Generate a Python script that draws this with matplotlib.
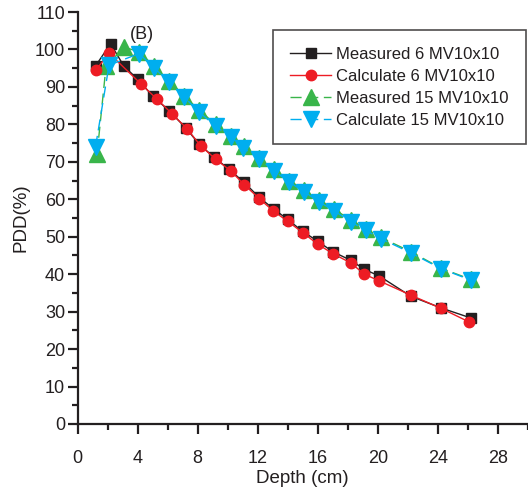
import matplotlib
matplotlib.use("Agg")
import matplotlib.pyplot as plt
from matplotlib.ticker import MultipleLocator

plt.rcParams['font.family'] = ['Liberation Sans', 'DejaVu Sans']

# ---- data ----
depth_m6 = [1.2, 2.2, 3.1, 4.0, 5.0, 6.1, 7.2, 8.1, 9.1, 10.1, 11.1, 12.1, 13.1, 14.0, 15.0,
            16.0, 17.0, 18.2, 19.1, 20.1, 22.2, 24.2, 26.2]
pdd_m6 = [95.6, 101.5, 95.5, 92.1, 87.6, 83.6, 79.1, 74.7, 71.2, 68.0, 64.5, 60.5, 57.3,
          54.6, 51.4, 48.8, 46.0, 43.7, 41.3, 39.5, 34.1, 31.0, 28.3]

depth_c6 = [1.2, 2.1, 4.2, 5.3, 6.3, 7.3, 8.2, 9.2, 10.2, 11.1, 12.1, 13.0, 14.0, 15.0,
            16.0, 17.0, 18.2, 19.1, 20.1, 22.2, 24.2, 26.1]
pdd_c6 = [94.4, 99.0, 90.9, 86.7, 82.8, 78.8, 74.3, 70.7, 67.6, 63.9, 60.2, 57.0,
          54.1, 51.1, 48.0, 45.5, 43.0, 40.0, 38.2, 34.4, 30.9, 27.2]

depth_m15 = [1.3, 1.9, 3.1, 4.1, 5.1, 6.1, 7.1, 8.1, 9.2, 10.2, 11.1, 12.1, 13.1, 14.1, 15.1,
             16.1, 17.1, 18.2, 19.2, 20.2, 22.2, 24.2, 26.2]
pdd_m15 = [72.0, 95.5, 100.6, 99.4, 95.5, 91.6, 87.6, 83.8, 80.0, 77.0, 74.2, 71.0, 68.0,
           65.0, 62.4, 59.7, 57.3, 54.5, 52.0, 49.8, 46.0, 41.6, 38.6]

depth_c15 = [1.2, 2.1, 4.1, 5.1, 6.1, 7.1, 8.1, 9.2, 10.2, 11.0, 12.1, 13.1, 14.1, 15.1,
             16.1, 17.1, 18.2, 19.2, 20.2, 22.2, 24.2, 26.2]
pdd_c15 = [74.0, 95.8, 98.9, 95.1, 91.3, 87.3, 83.3, 79.5, 76.6, 73.8, 70.8, 67.6,
           64.6, 62.0, 59.3, 56.9, 54.0, 51.7, 49.5, 45.7, 41.5, 38.4]

labels = ["Measured 6 MV10x10", "Calculate 6 MV10x10",
          "Measured 15 MV10x10", "Calculate 15 MV10x10"]

x_ticks = [0, 4, 8, 12, 16, 20, 24, 28]
y_ticks = [0, 10, 20, 30, 40, 50, 60, 70, 80, 90, 100, 110]

# ---- figure ----
W, H = 528, 493
fig = plt.figure(figsize=(W / 100, H / 100), dpi=100)
ax = fig.add_axes([77.5 / W, 69 / H, (W - 77.5) / W, (424 - 12) / H])

axis_col = '#231f20'
ax.plot(depth_m6, pdd_m6, color='#231f20', lw=1.0, marker='s', ms=7.5,
        mfc='#231f20', mec='#231f20', label=labels[0], zorder=3)
ax.plot(depth_c6, pdd_c6, color='#ed1c24', lw=1.0, marker='o', ms=7.5,
        mfc='#ed1c24', mec='#ed1c24', label=labels[1], zorder=4)
ax.plot(depth_m15, pdd_m15, color='#39b54a', lw=1.0, ls=(0, (8, 4)), marker='^', ms=11,
        mfc='#39b54a', mec='#39b54a', label=labels[2], zorder=3)
ax.plot(depth_c15, pdd_c15, color='#00aeef', lw=1.0, ls=(0, (8, 4)), marker='v', ms=11,
        mfc='#00aeef', mec='#00aeef', label=labels[3], zorder=4)

ax.set_xlim(0, 30)
ax.set_ylim(0, 110)
ax.set_xticks(x_ticks)
ax.set_yticks(y_ticks)
ax.xaxis.set_minor_locator(MultipleLocator(2))
ax.yaxis.set_minor_locator(MultipleLocator(5))

for s in ['top', 'right']:
    ax.spines[s].set_visible(False)
for s in ['left', 'bottom']:
    ax.spines[s].set_linewidth(1.6)
    ax.spines[s].set_color(axis_col)

ax.tick_params(which='major', direction='out', length=7, width=1.6, color=axis_col,
               labelsize=13, labelcolor=axis_col, pad=2)
ax.tick_params(which='minor', direction='out', length=4, width=1.6, color=axis_col)
ax.tick_params(axis='x', which='major', pad=12)

ax.set_xlabel("Depth (cm)", fontsize=13.5, color=axis_col, labelpad=2)
ax.set_ylabel("PDD(%)", fontsize=13.5, color=axis_col, labelpad=4)

ax.text(4.3, 104, "(B)", fontsize=13, color=axis_col, ha='center', va='center')

leg = ax.legend(loc='upper left', bbox_to_anchor=((273 - 77.5) / (W - 77.5), 1 - (30 - 12) / (424 - 12)),
                fontsize=12, frameon=True, fancybox=False, edgecolor=axis_col,
                handlelength=2.5, handletextpad=0.3, labelspacing=0.42, borderpad=1.0,
                borderaxespad=0, markerscale=1.0)
leg.get_frame().set_linewidth(1.2)
for t in leg.get_texts():
    t.set_color(axis_col)

fig.savefig("out.png", dpi=100)
